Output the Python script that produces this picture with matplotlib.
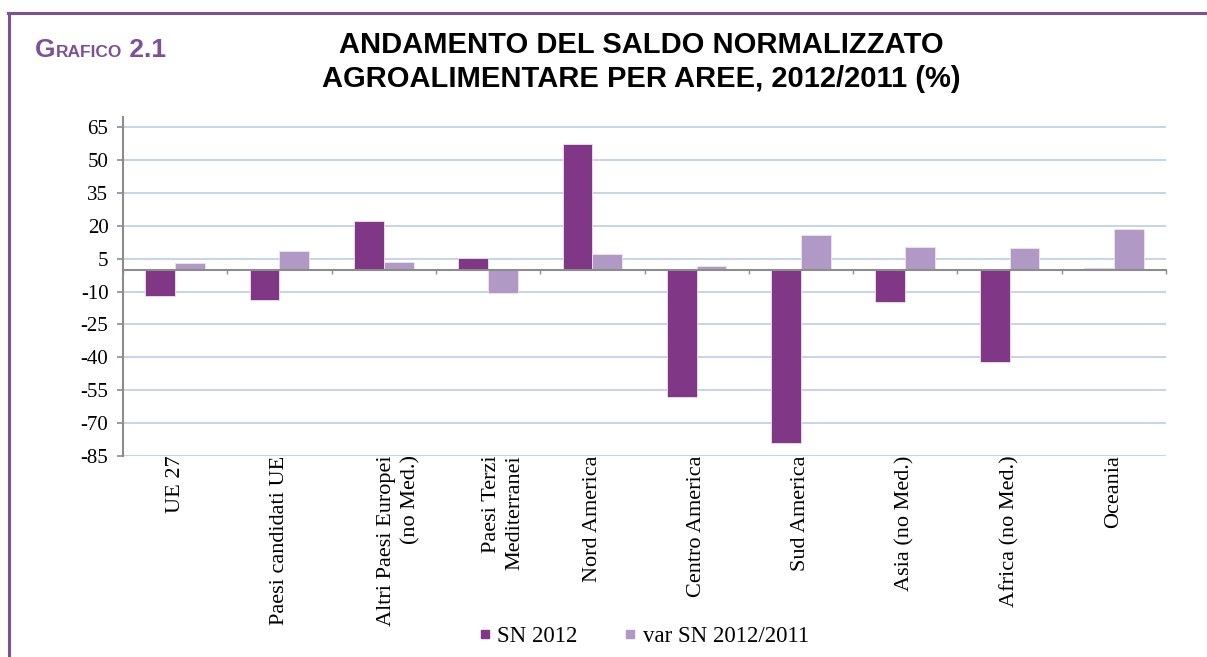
import matplotlib
matplotlib.use("Agg")
import matplotlib.pyplot as plt
from matplotlib.lines import Line2D
import matplotlib.transforms as mtransforms
import numpy as np

categories = ["UE 27", "Paesi candidati UE", "Altri Paesi Europei\n(no Med.)",
              "Paesi Terzi\nMediterranei", "Nord America", "Centro America",
              "Sud America", "Asia (no Med.)", "Africa (no Med.)", "Oceania"]
sn_2012 = [-12.0, -14.0, 22.2, 5.5, 57.3, -58.3, -78.9, -14.9, -42.0, 0.9]
var_sn = [3.1, 8.5, 3.7, -10.6, 7.3, 1.5, 15.7, 10.5, 9.9, 18.7]
series_names = ["SN 2012", "var SN 2012/2011"]
yticks = [65, 50, 35, 20, 5, -10, -25, -40, -55, -70, -85]

C_SN = "#7F3786"
C_VAR = "#B199C5"
C_FRAME = "#7E4F9B"
C_GRID = "#C5D4EA"
C_AXIS = "#8C8C8C"
serif = ["Liberation Serif", "DejaVu Serif"]
title_font = ["Liberation Sans Narrow", "Liberation Sans", "DejaVu Sans"]

W, H = 1207, 657
fig = plt.figure(figsize=(W / 100, H / 100), dpi=100)
fig.patch.set_facecolor("white")

left, right = 123 / W, 1166 / W
top, bottom = 1 - 117 / H, 1 - 456 / H
ax = fig.add_axes([left, bottom, right - left, top - bottom])

x = np.arange(len(categories))
bw = 1 / 3.5
ax.bar(x - bw / 2, sn_2012, width=bw, color=C_SN, edgecolor="#EDE4F0", linewidth=0.6, zorder=3)
ax.bar(x + bw / 2, var_sn, width=bw, color=C_VAR, edgecolor="#EDE4F0", linewidth=0.6, zorder=3)

ax.set_xlim(-0.5, len(categories) - 0.5)
ax.set_ylim(-85, 69.6)
ax.set_yticks(yticks)
ax.set_yticklabels([str(v) for v in yticks], fontfamily=serif, fontsize=15)
ax.yaxis.grid(True, color=C_GRID, linewidth=1.4, zorder=0)
ax.set_axisbelow(True)

for s in ["top", "right"]:
    ax.spines[s].set_visible(False)
ax.spines["left"].set_color(C_AXIS)
ax.spines["left"].set_linewidth(1.5)
ax.spines["bottom"].set_position(("data", 0))
ax.spines["bottom"].set_color(C_AXIS)
ax.spines["bottom"].set_linewidth(1.5)
ax.spines["bottom"].set_zorder(4)

ax.tick_params(axis="y", direction="out", length=4.5, color=C_AXIS, width=1.2, pad=6)
ax.set_xticks(np.arange(len(categories) + 1) - 0.5)
ax.set_xticklabels([])
ax.tick_params(axis="x", direction="out", length=3, color=C_AXIS, width=1.0)

# category labels below the plot area
for i, lab in enumerate(categories):
    nlines = lab.count("\n") + 1
    dx = 11 * (nlines - 1) / 72
    trans = mtransforms.blended_transform_factory(ax.transData, ax.transAxes) + \
        mtransforms.ScaledTranslation(dx, 0.5 / 72, fig.dpi_scale_trans)
    ax.text(i, 0, lab, transform=trans, rotation=90, ha="center", va="top",
            multialignment="right", fontfamily=serif, fontsize=16, linespacing=1.35)

# legend
handles = [Line2D([], [], marker="s", linestyle="none", markersize=5.5, color=C_SN),
           Line2D([], [], marker="s", linestyle="none", markersize=5.5, color=C_VAR)]
fig.legend(handles, series_names, loc="center", bbox_to_anchor=(0.533, 0.031),
           ncol=2, frameon=False, prop={"family": serif, "size": 16.5},
           handlelength=0.6, handletextpad=0.25, columnspacing=2.0, borderpad=0)

# frame
fig.add_artist(Line2D([8 / W, 1], [1 - 12.5 / H, 1 - 12.5 / H], color=C_FRAME, linewidth=2.2,
                      transform=fig.transFigure))
fig.add_artist(Line2D([9 / W, 9 / W], [0, 1 - 12.5 / H], color=C_FRAME, linewidth=2.2,
                      transform=fig.transFigure))

# title
fig.text(0.531, 1 - 45 / H, "ANDAMENTO DEL SALDO NORMALIZZATO", ha="center", va="center",
         fontsize=21, fontweight="heavy", fontfamily=title_font, color="black")
fig.text(0.531, 1 - 79 / H, "AGROALIMENTARE PER AREE, 2012/2011 (%)", ha="center", va="center",
         fontsize=21, fontweight="heavy", fontfamily=title_font, color="black")

# "GRAFICO 2.1" in small caps
renderer = fig.canvas.get_renderer()
xpos = 35
base_y = 1 - 57 / H
for txt, size in [("G", 19), ("RAFICO", 12.5), (" 2.1", 19)]:
    t = fig.text(xpos / W, base_y, txt, ha="left", va="baseline", fontsize=size,
                 fontweight="heavy", fontfamily=title_font, color=C_FRAME)
    bb = t.get_window_extent(renderer=renderer)
    xpos += bb.width

fig.savefig("out.png", dpi=100, facecolor="white")
